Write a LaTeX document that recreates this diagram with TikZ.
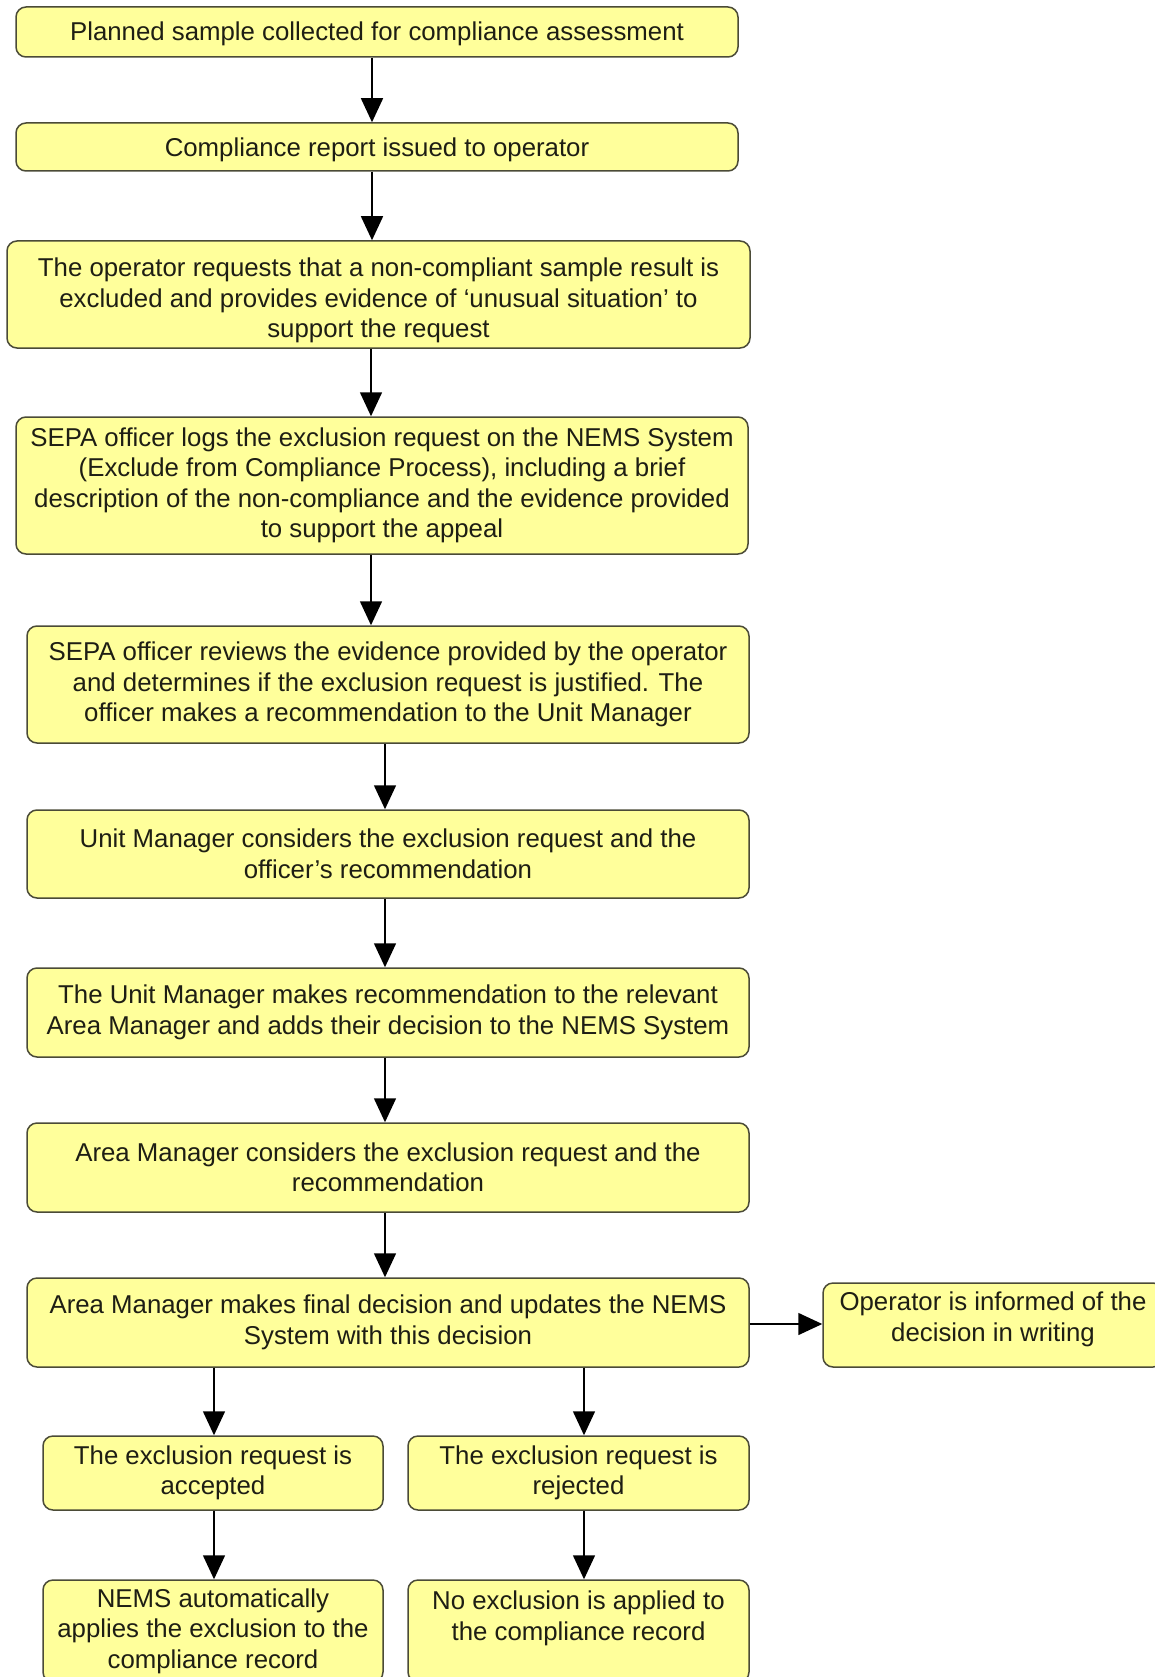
\documentclass[tikz,border=0pt]{standalone}
\usepackage{fontspec}
\setmainfont{Liberation Sans}
\usetikzlibrary{arrows.meta}
\definecolor{boxfill}{RGB}{255,255,155}
\definecolor{boxline}{RGB}{75,75,55}
\definecolor{txt}{RGB}{30,30,20}
\begin{document}
\begin{tikzpicture}[x=1pt,y=-1pt,
  box/.style={draw=boxline, line width=1.5pt, fill=boxfill, rounded corners=10pt,
    align=center, text=txt, inner sep=0pt,
    font=\fontsize{25.8}{30.5}\selectfont},
  arr/.style={draw=black, line width=1.5pt, -{Triangle[length=24pt,width=22pt]}}]
\useasboundingbox (0,0) rectangle (1155,1677);
\node[box, minimum width=722pt, minimum height=50pt] (b1) at (377,32) {\rule{0pt}{23pt}Planned sample collected for compliance assessment};
\node[box, minimum width=722pt, minimum height=48pt] (b2) at (377,147) {\rule{0pt}{25pt}Compliance report issued to operator};
\node[box, minimum width=743pt, minimum height=107pt] (b3) at (378.5,294.5) {\rule{0pt}{31pt}The operator requests that a non-compliant sample result is\\excluded and provides evidence of ‘unusual situation’ to\\support the request};
\node[box, minimum width=732pt, minimum height=137pt] (b4) at (382,485.5) {SEPA officer logs the exclusion request on the NEMS System\\(Exclude from Compliance Process), including a brief\\description of the non-compliance and the evidence provided\\to support the appeal};
\node[box, minimum width=722pt, minimum height=117pt] (b5) at (388,684.5) {SEPA officer reviews the evidence provided by the operator\\and determines if the exclusion request is justified. The\\officer makes a recommendation to the Unit Manager};
\node[box, minimum width=722pt, minimum height=88pt] (b6) at (388,854) {Unit Manager considers the exclusion request and the\\officer’s recommendation};
\node[box, minimum width=722pt, minimum height=89pt] (b7) at (388,1012.5) {The Unit Manager makes recommendation to the relevant\\Area Manager and adds their decision to the NEMS System};
\node[box, minimum width=722pt, minimum height=89pt] (b8) at (388,1167.5) {Area Manager considers the exclusion request and the\\recommendation};
\node[box, minimum width=722pt, minimum height=89pt] (b9) at (388,1322.5) {Area Manager makes final decision and updates the NEMS\\System with this decision};
\node[box, minimum width=340pt, minimum height=84pt] (b10) at (993,1325) {Operator is informed of the\\decision in writing\\[-14pt]\mbox{}};
\node[box, minimum width=340pt, minimum height=74pt] (b11) at (213,1473) {The exclusion request is\\accepted};
\node[box, minimum width=341pt, minimum height=74pt] (b12) at (578.5,1473) {The exclusion request is\\rejected};
\node[box, minimum width=340pt, minimum height=102pt] (b13) at (213,1631) {NEMS automatically\\applies the exclusion to the\\compliance record};
\node[box, minimum width=341pt, minimum height=102pt] (b14) at (578.5,1631) {No exclusion is applied to\\the compliance record\\\mbox{}};
\draw[arr] (b1.south -| 372,0) -- (b2.north -| 372,0);
\draw[arr] (b2.south -| 372,0) -- (b3.north -| 372,0);
\draw[arr] (b3.south -| 371,0) -- (b4.north -| 371,0);
\draw[arr] (b4.south -| 371,0) -- (b5.north -| 371,0);
\draw[arr] (b5.south -| 385,0) -- (b6.north -| 385,0);
\draw[arr] (b6.south -| 385,0) -- (b7.north -| 385,0);
\draw[arr] (b7.south -| 385,0) -- (b8.north -| 385,0);
\draw[arr] (b8.south -| 385,0) -- (b9.north -| 385,0);
\draw[arr] (b9.east |- 0,1324) -- (b10.west |- 0,1324);
\draw[arr] (b9.south -| 214,0) -- (b11.north -| 214,0);
\draw[arr] (b9.south -| 584,0) -- (b12.north -| 584,0);
\draw[arr] (b11.south -| 214,0) -- (b13.north -| 214,0);
\draw[arr] (b12.south -| 584,0) -- (b14.north -| 584,0);
\end{tikzpicture}
\end{document}
